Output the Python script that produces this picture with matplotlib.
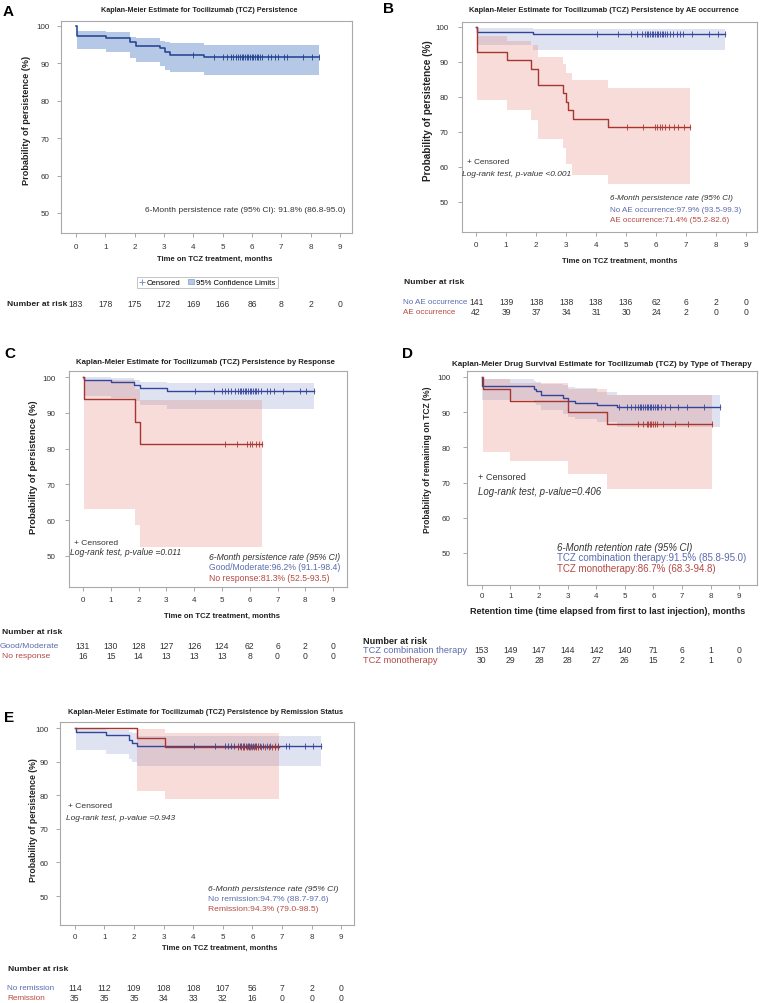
import numpy as np
import matplotlib
matplotlib.use('Agg')
import matplotlib.pyplot as plt
from matplotlib.lines import Line2D
from matplotlib.patches import Patch
import matplotlib.transforms as mtransforms

# ---------------- data ----------------
months = list(range(10))

# Panel A
A_t = [0, 0.03, 1.01, 1.84, 2.05, 2.86, 3.03, 3.2, 4.36]
A_s = [100, 97.3, 96.7, 95.6, 94.5, 94.0, 93.0, 92.3, 91.8]
A_end = 8.3
A_ci_t = [0.03, 1.01, 1.84, 2.05, 2.86, 3.03, 3.2, 4.36]
A_ci_hi = [98.7, 98.3, 97.0, 96.8, 95.9, 95.6, 95.4, 94.95]
A_ci_lo = [93.7, 93.0, 91.5, 90.3, 89.2, 88.2, 87.6, 86.8]
A_cens = [4.0, 4.72, 5.02, 5.14, 5.27, 5.36, 5.45, 5.53, 5.6, 5.65, 5.7, 5.76, 5.82,
          5.87, 5.93, 5.99, 6.05, 6.1, 6.16, 6.22, 6.28, 6.33, 6.56, 6.64, 6.78, 6.9,
          7.09, 7.18, 7.75, 8.04, 8.3]
A_risk = [183, 178, 175, 172, 169, 166, 86, 8, 2, 0]

# Panel B
B1_t = [0, 0.03, 1.89]
B1_s = [100, 98.6, 97.9]
B1_end = 8.3
B1_ci_t = [0.03, 1.89]
B1_ci_hi = [99.6, 99.3]
B1_ci_lo = [94.8, 93.5]
B1_cens = [4.02, 4.74, 5.16, 5.36, 5.52, 5.62, 5.69, 5.75, 5.8, 5.86, 5.91, 5.97, 6.02,
           6.08, 6.13, 6.19, 6.24, 6.3, 6.36, 6.47, 6.58, 6.69, 6.8, 6.91, 7.21, 7.78,
           8.06, 8.3]
B2_t = [0, 0.03, 1.02, 1.83, 2.08, 2.89, 3.0, 3.08, 3.24, 4.39]
B2_s = [100, 92.9, 90.5, 88.1, 83.3, 81.0, 78.6, 76.2, 73.8, 71.4]
B2_end = 7.15
B2_ci_t = [0.03, 1.02, 1.83, 2.08, 2.89, 3.0, 3.2, 4.39]
B2_ci_hi = [97.3, 96.1, 94.7, 91.5, 89.3, 86.8, 84.8, 82.6]
B2_ci_lo = [79.2, 76.2, 73.4, 68.1, 65.3, 60.8, 57.7, 55.2]
B2_cens = [5.02, 5.56, 5.97, 6.05, 6.12, 6.2, 6.3, 6.45, 6.6, 6.75, 6.92, 7.15]
B1_risk = [141, 139, 138, 138, 138, 136, 62, 6, 2, 0]
B2_risk = [42, 39, 37, 34, 31, 30, 24, 2, 0, 0]

# Panel C
C1_t = [0, 0.04, 1.02, 1.83, 2.04, 3.03]
C1_s = [100, 99.2, 98.5, 97.7, 96.9, 96.2]
C1_end = 8.33
C1_ci_t = [0.04, 1.02, 1.83, 2.04, 3.03]
C1_ci_hi = [99.9, 99.7, 99.3, 98.7, 98.4]
C1_ci_lo = [94.7, 94.1, 93.2, 92.2, 91.1]
C1_cens = [4.02, 4.71, 5.0, 5.1, 5.22, 5.34, 5.46, 5.58, 5.64, 5.69, 5.76, 5.82, 5.88,
           5.94, 6.0, 6.05, 6.12, 6.18, 6.24, 6.29, 6.41, 6.63, 6.72, 6.89, 7.19, 7.8,
           8.03, 8.33]
C2_t = [0, 0.04, 1.89, 2.07]
C2_s = [100, 93.75, 87.5, 81.3]
C2_end = 6.45
C2_ci_t = [0.04, 1.89, 2.07]
C2_ci_hi = [99.1, 96.8, 93.5]
C2_ci_lo = [63.2, 58.6, 52.5]
C2_cens = [5.12, 5.54, 5.92, 6.02, 6.08, 6.22, 6.32, 6.45]
C1_risk = [131, 130, 128, 127, 126, 124, 62, 6, 2, 0]
C2_risk = [16, 15, 14, 13, 13, 13, 8, 0, 0, 0]

# Panel D
D1_t = [0, 0.02, 1.83, 1.89, 2.06, 2.84, 3.02, 3.25, 4.01, 4.74]
D1_s = [100, 97.4, 96.7, 96.0, 94.9, 94.0, 93.3, 92.7, 92.1, 91.5]
D1_end = 8.32
D1_ci_t = [0.02, 1.83, 1.89, 2.06, 2.84, 3.02, 3.25, 4.01, 4.74]
D1_ci_hi = [99.3, 98.9, 98.7, 98.0, 97.6, 97.1, 96.8, 95.8, 95.0]
D1_ci_lo = [93.5, 92.7, 92.0, 90.6, 89.6, 88.6, 88.0, 87.2, 85.8]
D1_cens = [4.8, 5.06, 5.23, 5.35, 5.47, 5.53, 5.58, 5.64, 5.7, 5.76, 5.82, 5.88, 5.93,
           5.99, 6.05, 6.11, 6.17, 6.28, 6.4, 6.57, 6.86, 7.16, 7.77, 8.32]
D2_t = [0, 0.04, 0.98, 3.02, 4.38]
D2_s = [100, 96.7, 93.3, 90.0, 86.7]
D2_end = 8.05
D2_ci_t = [0.04, 0.98, 3.02, 4.38]
D2_ci_hi = [99.5, 98.3, 96.5, 94.8]
D2_ci_lo = [78.6, 76.0, 72.3, 68.3]
D2_cens = [5.47, 5.64, 5.76, 5.82, 5.87, 5.93, 5.99, 6.05, 6.11, 6.34, 6.75, 7.21, 8.05]
D1_risk = [153, 149, 147, 144, 142, 140, 71, 6, 1, 0]
D2_risk = [30, 29, 28, 28, 27, 26, 15, 2, 1, 0]

# Panel E
E1_t = [0, 0.04, 1.06, 1.82, 1.93, 2.09]
E1_s = [100, 98.9, 97.9, 96.5, 95.7, 94.7]
E1_end = 8.3
E1_ci_t = [0.04, 1.06, 1.82, 1.93, 2.09]
E1_ci_hi = [99.8, 99.4, 98.8, 98.4, 97.6]
E1_ci_lo = [93.6, 92.4, 90.8, 90.0, 88.7]
E1_cens = [4.02, 4.72, 5.06, 5.17, 5.28, 5.39, 5.51, 5.57, 5.62, 5.68, 5.73, 5.79, 5.85,
           5.9, 5.96, 6.02, 6.08, 6.13, 6.19, 6.25, 6.35, 6.5, 6.6, 6.76, 6.86, 7.12,
           7.23, 7.76, 8.04, 8.3]
E2_t = [0, 2.09, 3.03]
E2_s = [100, 97.1, 94.3]
E2_end = 6.91
E2_ci_t = [2.09, 3.03]
E2_ci_hi = [99.6, 98.5]
E2_ci_lo = [81.4, 79.0]
E2_cens = [5.5, 5.6, 5.68, 5.73, 5.8, 5.87, 5.93, 5.99, 6.06, 6.13, 6.2, 6.3, 6.42,
           6.55, 6.65, 6.76, 6.86]
E1_risk = [114, 112, 109, 108, 108, 107, 56, 7, 2, 0]
E2_risk = [35, 35, 35, 34, 33, 32, 16, 0, 0, 0]

# ---------------- style ----------------
plt.rcParams['font.family'] = ['Liberation Sans', 'DejaVu Sans']

A_LINE = '#1f3f8f'
A_BAND = '#b5c9e6'
BLUE_LINE = '#33459a'
RED_LINE = '#a8362f'
BLUE_BAND = '#6f80c0'
RED_BAND = '#e0766c'
BLUE_TXT = '#5b6cae'
RED_TXT = '#b44a43'
TXT = '#333333'
DARK = '#222222'

W, H = 760, 1004
fig = plt.figure(figsize=(W / 100, H / 100), dpi=100)


def T(x, y, s, **kw):
    kw.setdefault('va', 'center')
    kw.setdefault('color', TXT)
    return fig.text(x / W, 1 - y / H, s, **kw)


def add_ax(l, t, r, b):
    return fig.add_axes([l / W, 1 - b / H, (r - l) / W, (b - t) / H])


def style(ax, xlim, ylim, xpad, ypad):
    ax.set_xlim(*xlim)
    ax.set_ylim(*ylim)
    ax.set_xticks(months)
    ax.set_yticks(range(50, 101, 10))
    for sp in ax.spines.values():
        sp.set_color('#a9a9a9')
        sp.set_linewidth(0.8)
    ax.tick_params(length=3, width=0.6, color='#999999', labelsize=5.8,
                   labelcolor=TXT)
    ax.tick_params(axis='x', pad=xpad)
    ax.tick_params(axis='y', pad=ypad)


def km(ax, t, s, end, cens, color, lw=1.0):
    ax.step(list(t) + [end], list(s) + [s[-1]], where='post', color=color, lw=lw, zorder=3)
    idx = np.searchsorted(t, cens, side='right') - 1
    ax.plot(cens, np.array(s)[idx], ls='none', marker='|', ms=4, mew=0.6,
            color=color, zorder=4)


def band(ax, t, lo, hi, end, color, alpha):
    ax.fill_between(list(t) + [end], list(lo) + [lo[-1]], list(hi) + [hi[-1]],
                    step='post', color=color, alpha=alpha, lw=0, zorder=1)


def risk_row(ax, y, values, size=6.2):
    tr = mtransforms.blended_transform_factory(ax.transData, fig.transFigure)
    for m, v in zip(months, values):
        ax.text(m, 1 - y / H, str(v), transform=tr, ha='center', va='center',
                fontsize=size, color=TXT)


LET = dict(weight='bold', size=11, color='black', va='top')


def title(x, y, s, size):
    T(x, y, s, weight='bold', size=size, ha='center', color=DARK)


def xlab(x, y, s, size):
    T(x, y, s, weight='bold', size=size, ha='center', color=DARK)


def ylab(x, y, s, size):
    T(x, y, s, weight='bold', size=size, ha='center', rotation=90, color=DARK)


# ---------------- Panel A ----------------
axA = add_ax(61, 22, 352, 234)
style(axA, (-0.51, 9.41), (44.65, 101.3), 4.5, 5.5)
band(axA, A_ci_t, A_ci_lo, A_ci_hi, A_end, A_BAND, 1.0)
km(axA, A_t, A_s, A_end, A_cens, A_LINE, 1.1)
T(3, 5, 'A', **LET)
title(199, 11, 'Kaplan-Meier Estimate for Tocilizumab (TCZ) Persistence', 5.25)
T(345, 211, '6-Month persistence rate (95% CI): 91.8% (86.8-95.0)', ha='right', size=6.0)
xlab(215, 259, 'Time on TCZ treatment, months', 5.5)
ylab(27, 120, 'Probability of persistence (%)', 6.6)
handles = [Line2D([], [], ls='none', marker='+', color='#6f86b8', ms=4, mew=0.6),
           Patch(facecolor=A_BAND, edgecolor='#7f9cc8', lw=0.5)]
leg = fig.legend(handles, ['Censored', '95% Confidence Limits'], loc='center',
                 bbox_to_anchor=(207 / W, 1 - 283.5 / H), ncol=2, fontsize=5.6,
                 frameon=True, fancybox=False, edgecolor='#aaaaaa', handlelength=0.8,
                 handleheight=0.7, handletextpad=0.3, columnspacing=0.9, borderpad=0.25)
leg.get_frame().set_linewidth(0.6)
T(7, 305, 'Number at risk', ha='left', weight='bold', size=6.1, color=DARK)
risk_row(axA, 305, A_risk)

# ---------------- Panel B ----------------
axB = add_ax(462, 23, 757, 233)
style(axB, (-0.47, 9.37), (41.4, 101.4), 3.2, 6.5)
band(axB, B1_ci_t, B1_ci_lo, B1_ci_hi, B1_end, BLUE_BAND, 0.22)
band(axB, B2_ci_t, B2_ci_lo, B2_ci_hi, B2_end, RED_BAND, 0.25)
km(axB, B1_t, B1_s, B1_end, B1_cens, BLUE_LINE)
km(axB, B2_t, B2_s, B2_end, B2_cens, RED_LINE)
T(383, 2, 'B', **LET)
title(604, 11, 'Kaplan-Meier Estimate for Tocilizumab (TCZ) Persistence by AE occurrence', 5.45)
T(467, 163, '+ Censored', ha='left', size=5.9)
T(462, 174, 'Log-rank test, p-value <0.001', ha='left', style='italic', size=6.0)
T(610, 199, '6-Month persistence rate (95% CI)', ha='left', style='italic', size=5.8)
T(610, 210, 'No AE occurrence:97.9% (93.5-99.3)', ha='left', size=5.8, color=BLUE_TXT)
T(610, 220, 'AE occurrence:71.4% (55.2-82.6)', ha='left', size=5.8, color=RED_TXT)
xlab(620, 261, 'Time on TCZ treatment, months', 5.5)
ylab(428, 111, 'Probability of persistence (%)', 7.2)
T(404, 283, 'Number at risk', ha='left', weight='bold', size=6.1, color=DARK)
T(403, 303, 'No AE occurrence', ha='left', size=5.8, color=BLUE_TXT)
T(403, 313, 'AE occurrence', ha='left', size=5.8, color=RED_TXT)
risk_row(axB, 303, B1_risk)
risk_row(axB, 313, B2_risk)

# ---------------- Panel C ----------------
axC = add_ax(69, 372, 347, 588)
style(axC, (-0.5, 9.5), (41.3, 101.7), 3.2, 6.5)
band(axC, C1_ci_t, C1_ci_lo, C1_ci_hi, C1_end, BLUE_BAND, 0.22)
band(axC, C2_ci_t, C2_ci_lo, C2_ci_hi, C2_end, RED_BAND, 0.25)
km(axC, C1_t, C1_s, C1_end, C1_cens, BLUE_LINE)
km(axC, C2_t, C2_s, C2_end, C2_cens, RED_LINE)
T(4, 347, 'C', **LET)
title(205, 363, 'Kaplan-Meier Estimate for Tocilizumab (TCZ) Persistence by Response', 5.55)
T(74, 544, '+ Censored', ha='left', size=6.1)
T(70, 553, 'Log-rank test, p-value =0.011', ha='left', style='italic', size=6.2)
T(209, 557.5, '6-Month persistence rate (95% CI)', ha='left', style='italic', size=6.25)
T(209, 568, 'Good/Moderate:96.2% (91.1-98.4)', ha='left', size=6.25, color=BLUE_TXT)
T(209, 578.5, 'No response:81.3% (52.5-93.5)', ha='left', size=6.25, color=RED_TXT)
xlab(222, 616, 'Time on TCZ treatment, months', 5.6)
ylab(34, 467, 'Probability of persistence (%)', 6.8)
T(2, 632, 'Number at risk', ha='left', weight='bold', size=6.1, color=DARK)
T(0, 647, 'Good/Moderate', ha='left', size=6.1, color=BLUE_TXT)
T(2, 657, 'No response', ha='left', size=6.1, color=RED_TXT)
risk_row(axC, 647, C1_risk)
risk_row(axC, 657, C2_risk)

# ---------------- Panel D ----------------
axD = add_ax(467, 372, 757, 586)
style(axD, (-0.52, 9.62), (40.9, 101.7), 2.0, 9.0)
band(axD, D1_ci_t, D1_ci_lo, D1_ci_hi, D1_end, BLUE_BAND, 0.22)
band(axD, D2_ci_t, D2_ci_lo, D2_ci_hi, D2_end, RED_BAND, 0.25)
km(axD, D1_t, D1_s, D1_end, D1_cens, BLUE_LINE)
km(axD, D2_t, D2_s, D2_end, D2_cens, RED_LINE)
T(402, 347, 'D', **LET)
title(602, 365, 'Kaplan-Meier Drug Survival Estimate for Tocilizumab (TCZ) by Type of Therapy', 5.8)
T(478, 478, '+ Censored', ha='left', size=6.6)
T(478, 492, 'Log-rank test, p-value=0.406', ha='left', style='italic', size=6.9)
T(557, 548, '6-Month retention rate (95% CI)', ha='left', style='italic', size=6.9)
T(557, 558.5, 'TCZ combination therapy:91.5% (85.8-95.0)', ha='left', size=7.0, color=BLUE_TXT)
T(557, 569, 'TCZ monotherapy:86.7% (68.3-94.8)', ha='left', size=7.0, color=RED_TXT)
xlab(608, 611, 'Retention time (time elapsed from first to last injection), months', 6.5)
ylab(428, 460, 'Probability of remaining on TCZ (%)', 6.15)
T(363, 641, 'Number at risk', ha='left', weight='bold', size=6.6, color=DARK)
T(363, 651, 'TCZ combination therapy', ha='left', size=6.7, color=BLUE_TXT)
T(363, 661, 'TCZ monotherapy', ha='left', size=6.7, color=RED_TXT)
risk_row(axD, 651, D1_risk)
risk_row(axD, 661, D2_risk)

# ---------------- Panel E ----------------
axE = add_ax(60, 723, 354, 926)
style(axE, (-0.5, 9.43), (41.4, 101.8), 2.7, 5.0)
band(axE, E1_ci_t, E1_ci_lo, E1_ci_hi, E1_end, BLUE_BAND, 0.22)
band(axE, E2_ci_t, E2_ci_lo, E2_ci_hi, E2_end, RED_BAND, 0.25)
km(axE, E1_t, E1_s, E1_end, E1_cens, BLUE_LINE)
km(axE, E2_t, E2_s, E2_end, E2_cens, RED_LINE)
T(4, 711, 'E', **LET)
title(205, 712, 'Kaplan-Meier Estimate for Tocilizumab (TCZ) Persistence by Remission Status', 5.35)
T(68, 807, '+ Censored', ha='left', size=6.1)
T(66, 818, 'Log-rank test, p-value =0.943', ha='left', style='italic', size=6.0)
T(208, 890, '6-Month persistence rate (95% CI)', ha='left', style='italic', size=6.1)
T(208, 900, 'No remission:94.7% (88.7-97.6)', ha='left', size=6.1, color=BLUE_TXT)
T(208, 910, 'Remission:94.3% (79.0-98.5)', ha='left', size=6.1, color=RED_TXT)
xlab(220, 948, 'Time on TCZ treatment, months', 5.5)
ylab(33, 820, 'Probability of persistence (%)', 6.3)
T(8, 970, 'Number at risk', ha='left', weight='bold', size=6.1, color=DARK)
T(7, 989, 'No remission', ha='left', size=5.85, color=BLUE_TXT)
T(7, 999, 'Remission', ha='left', size=5.85, color=RED_TXT)
risk_row(axE, 989, E1_risk)
risk_row(axE, 999, E2_risk)

fig.savefig('out.png', dpi=100)
